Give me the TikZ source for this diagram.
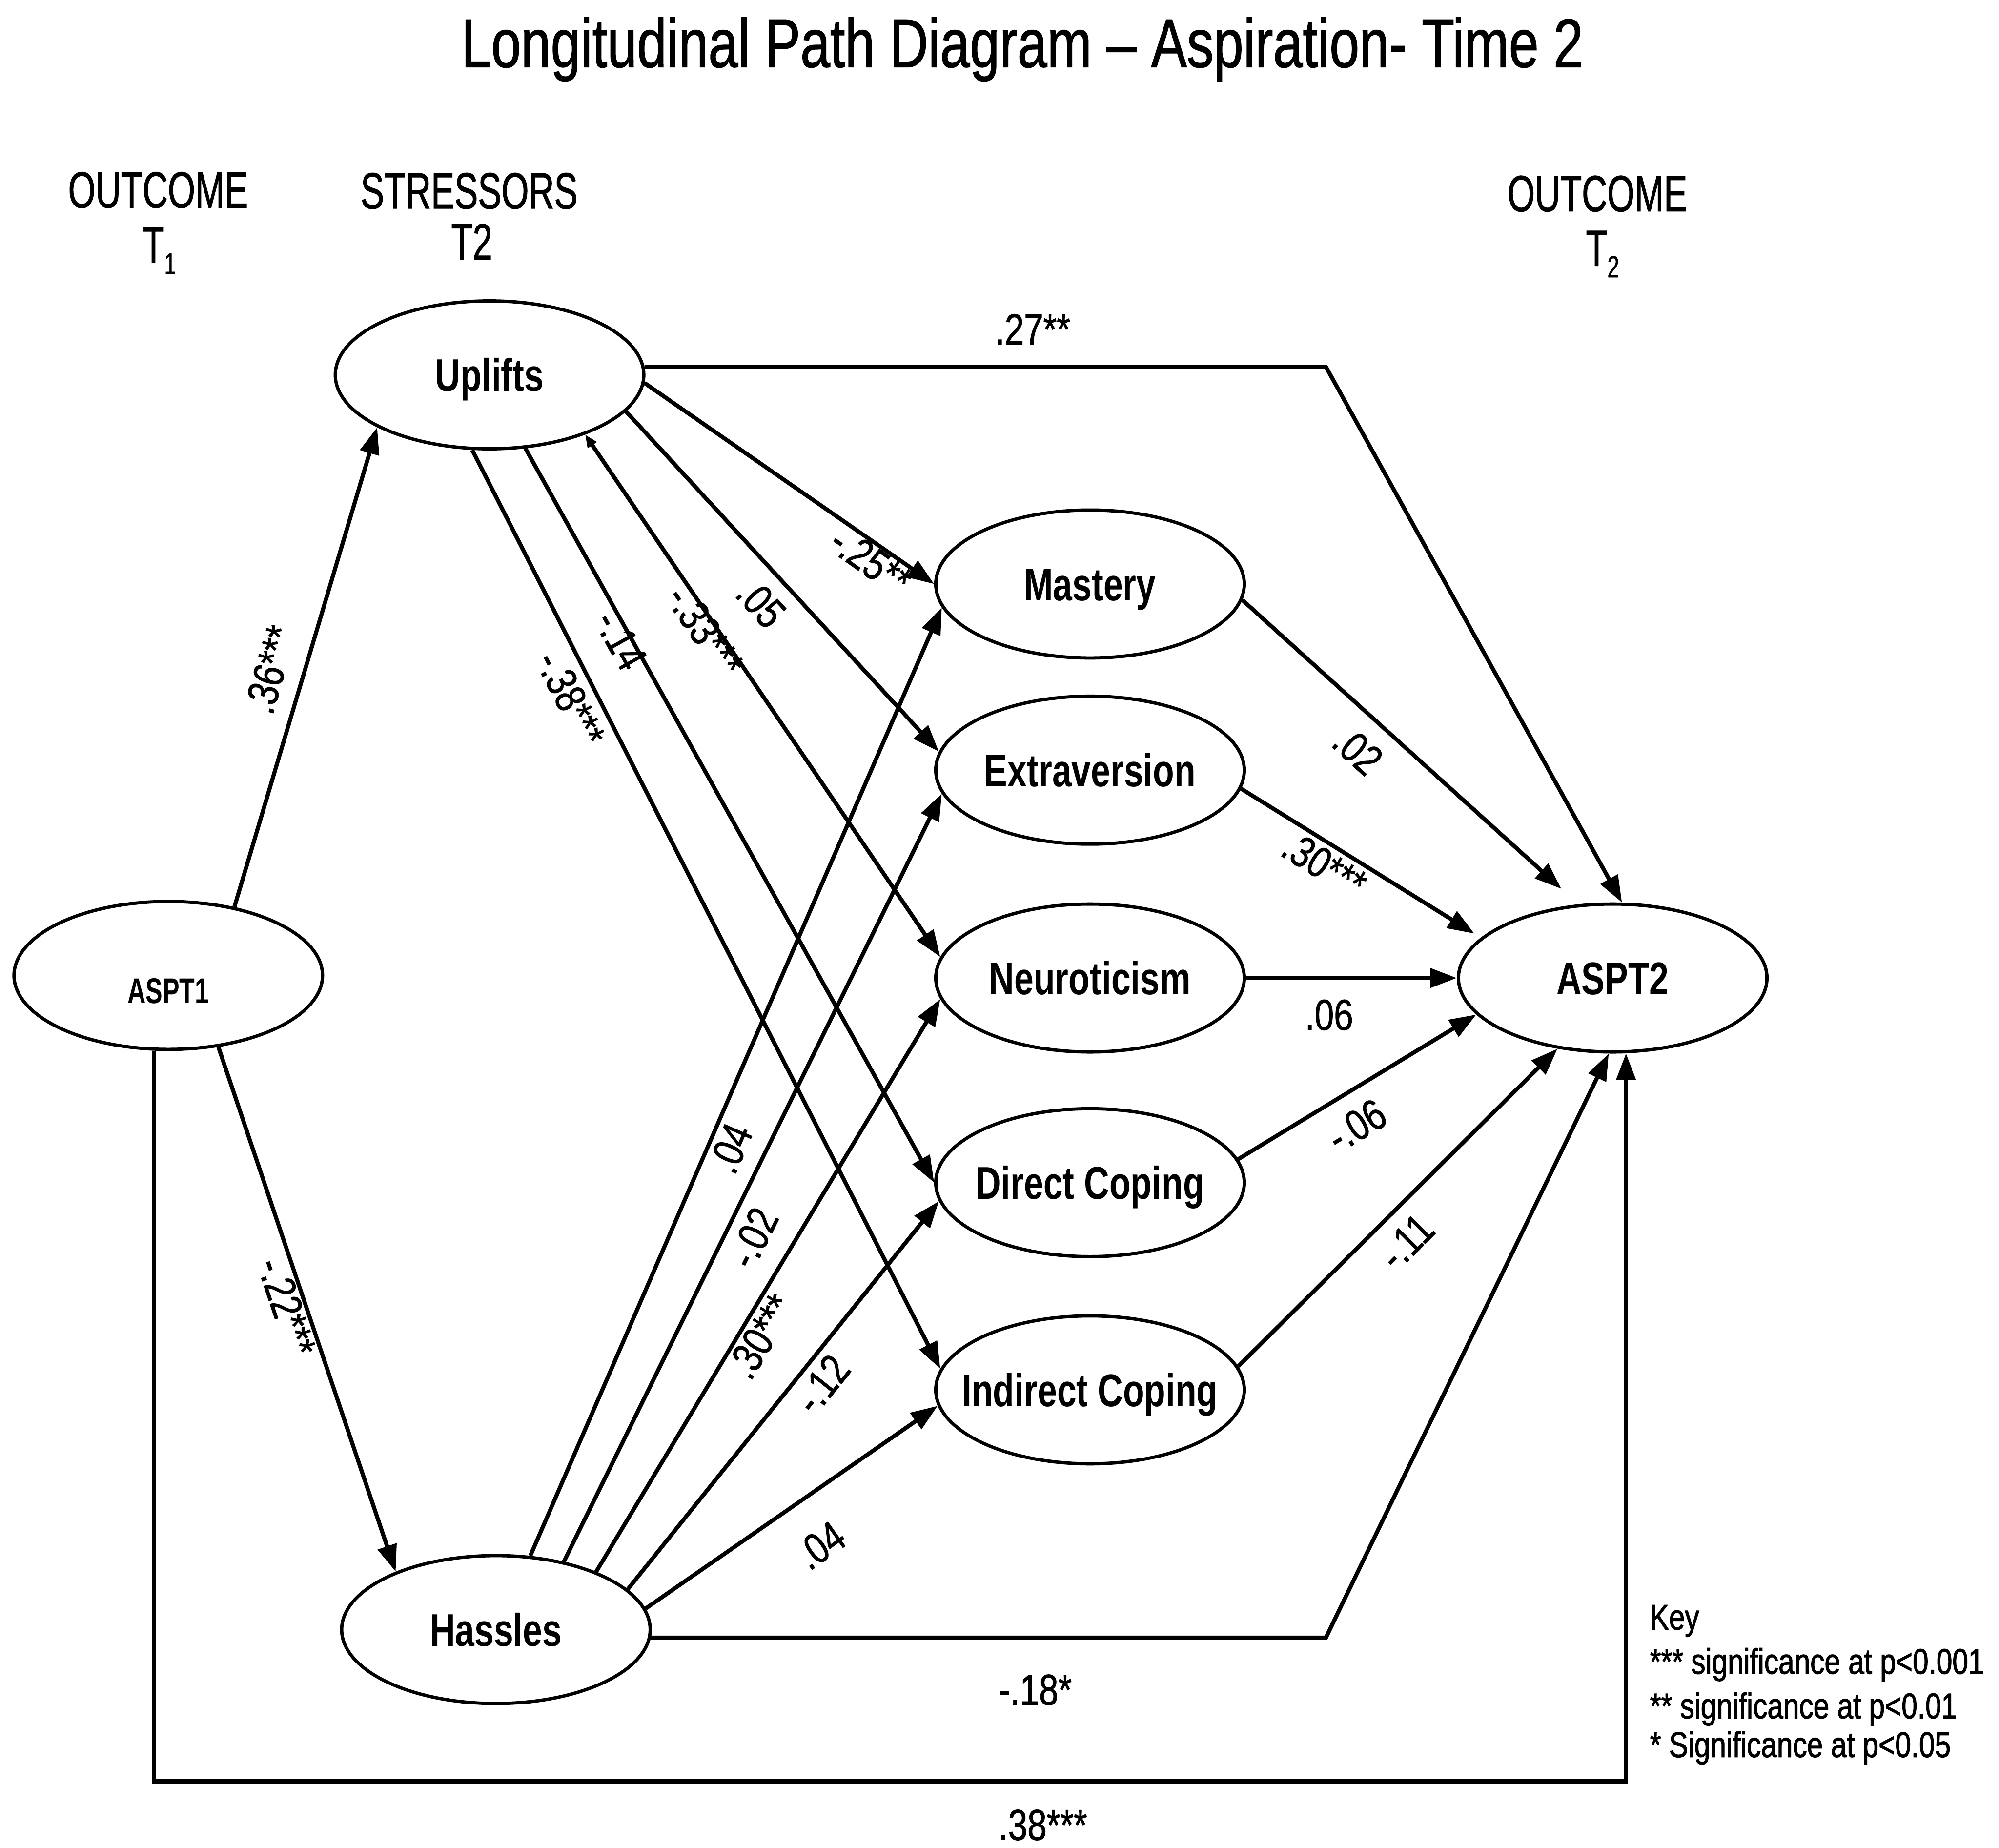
\documentclass[tikz,border=0pt]{standalone}
\usepackage{fontspec}
\setmainfont{Liberation Sans}
\newfontfamily\titlefont[FakeStretch=0.777,FakeBold=1]{Liberation Sans}
\newfontfamily\headfont[FakeStretch=0.69,FakeBold=1]{Liberation Sans}
\newfontfamily\varfont[FakeStretch=0.76]{Liberation Sans}
\newfontfamily\smallvarfont[FakeStretch=0.71]{Liberation Sans}
\newfontfamily\coeffont[FakeStretch=0.8,FakeBold=1]{Liberation Sans}
\newfontfamily\keyfont[FakeStretch=0.8,FakeBold=1.5]{Liberation Sans}
\usetikzlibrary{shapes.geometric,arrows.meta}

% label text of an ellipse: zero width, so every ellipse keeps the same size
\newcommand{\vlabel}[1]{\makebox[0pt][c]{#1}}

\begin{document}
\begin{tikzpicture}[x=1pt,y=-1pt,
  var/.style={draw, ellipse, line width=2.6pt, minimum width=242pt, minimum height=116pt,
    inner sep=0pt, text height=25.8pt, text depth=0pt,
    font=\varfont\bfseries\fontsize{36}{40}\selectfont},
  path/.style={line width=3.2pt, -{Triangle[length=21pt,width=15pt]}},
  coef/.style={font=\coeffont\fontsize{34}{38}\selectfont, inner sep=0pt},
  head/.style={font=\headfont\fontsize{40}{44}\selectfont, inner sep=0pt, anchor=base},
  keytext/.style={font=\keyfont\fontsize{28}{32}\selectfont, inner sep=0pt, anchor=base west},
]
\useasboundingbox (0,0) rectangle (1568,1449);

% title and column headings
\node[font=\titlefont\fontsize{54}{60}\selectfont, inner sep=0pt, anchor=base] (title) at (802,52.6)
  {Longitudinal Path Diagram – Aspiration- Time 2};
\node[head] (hout1) at (124,162.8) {OUTCOME};
\node[head] (hstr) at (368,163.5) {STRESSORS};
\node[head] (hout2) at (1253,165.7) {OUTCOME};
\node[head] (ht1) at (125,206) {T\raisebox{-9pt}{\fontsize{24}{26}\selectfont 1}};
\node[head] (ht2) at (370,203.5) {T2};
\node[head] (ht3) at (1257,208.5) {T\raisebox{-9pt}{\fontsize{24}{26}\selectfont 2}};

% variables
\node[var, font=\smallvarfont\bfseries\fontsize{28}{30}\selectfont, text height=44pt] (ASPT1) at (132,765) {\vlabel{ASPT1}};
\node[var] (Uplifts) at (384,294) {\vlabel{Uplifts}};
\node[var] (Hassles) at (389,1278) {\vlabel{Hassles}};
\node[var] (Mastery) at (855,458) {\vlabel{Mastery}};
\node[var] (Extraversion) at (855,604) {\vlabel{Extraversion}};
\node[var] (Neuroticism) at (855,767) {\vlabel{Neuroticism}};
\node[var] (Direct) at (855,927.5) {\vlabel{Direct Coping}};
\node[var] (Indirect) at (855,1090) {\vlabel{Indirect Coping}};
\node[var] (ASPT2) at (1265,767) {\vlabel{ASPT2}};

% outcome T1 -> stressors
\draw[path] (ASPT1.46) -- (Uplifts.-155);
\draw[path] (ASPT1.-55) -- (Hassles.150);

% outcome T1 -> outcome T2
\coordinate (low) at (700,1397);
\draw[path] (ASPT1.-101) |- (low) -| (ASPT2.-80);

% stressors -> outcome T2
\coordinate (ucorner) at (1040,288);
\draw[path] (Uplifts.3) -- (Uplifts.3 -| ucorner) -- (ASPT2.83);
\coordinate (hcorner) at (1040,1285);
\draw[path] (Hassles.-3) -- (Hassles.-3 -| hcorner) -- (ASPT2.-93);

% uplifts -> mediators
\draw[path] (Uplifts.-3) -- (Mastery.west);
\draw[path] (Uplifts.-15) -- (Extraversion.173);
\draw[line width=3.2pt, {Triangle[length=10pt,width=8pt]}-{Triangle[length=21pt,width=15pt]}]
  (Uplifts.-32) -- (Neuroticism.172);
\draw[path] (Uplifts.-64) -- (Direct.west);
\draw[path] (Uplifts.-103) -- (Indirect.172);

% hassles -> mediators
\draw[path] (Hassles.65) -- (Mastery.-171);
\draw[path] (Hassles.45) -- (Extraversion.-171);
\draw[path] (Hassles.30) -- (Neuroticism.-172);
\draw[path] (Hassles.17) -- (Direct.-173);
\draw[path] (Hassles.8) -- (Indirect.-174);

% mediators -> outcome T2
\draw[path, shorten >=18pt] (Mastery.-6) -- (ASPT2.115);
\draw[path, shorten >=6pt] (Extraversion.-7) -- (ASPT2.163);
\draw[path] (Neuroticism.east) -- (ASPT2.west);
\draw[path] (Direct.9) -- (ASPT2.-165);
\draw[path] (Indirect.9) -- (ASPT2.-128);

% path coefficients
\node[coef, rotate=74] (c1) at (212,525) {.36***};
\node[coef, rotate=-71.5] (c2) at (225,1025) {-.22***};
\node[coef, rotate=-35] (c3) at (683,440) {-.25**};
\node[coef, rotate=-47.6] (c4) at (597,473) {.05};
\node[coef, rotate=-55.6] (c5) at (553,495) {-.33***};
\node[coef, rotate=-60.7] (c6) at (487,502) {-.14};
\node[coef, rotate=-63.1] (c7) at (447.5,548) {-.38***};
\node[coef, anchor=base] (c8) at (810,270) {.27**};
\node[coef, anchor=base] (c9) at (812,1337) {-.18*};
\node[coef, anchor=base] (c10) at (818,1443) {.38***};
\node[coef, rotate=66.6] (c11) at (573,900.6) {.04};
\node[coef, rotate=63.6] (c12) at (590.7,970.8) {-.02};
\node[coef, rotate=58.8] (c13) at (596.7,1048) {.30***};
\node[coef, rotate=51.3] (c14) at (644.7,1085.5) {-.12};
\node[coef, rotate=35.5] (c15) at (643.6,1212) {.04};
\node[coef, rotate=-42.1] (c16) at (1065,588.5) {.02};
\node[coef, rotate=-31.6] (c17) at (1038.8,678.5) {.30***};
\node[coef] (c18) at (1042.5,796) {.06};
\node[coef, rotate=31.3] (c19) at (1064,882.7) {-.06};
\node[coef, rotate=45.2] (c20) at (1103,974) {-.11};

% key
\node[keytext] (key0) at (1294,1278) {Key};
\node[keytext] (key1) at (1294,1312.7) {*** significance at p<0.001};
\node[keytext] (key2) at (1294,1347.6) {** significance at p<0.01};
\node[keytext] (key3) at (1294,1378) {* Significance at p<0.05};
\end{tikzpicture}
\end{document}
